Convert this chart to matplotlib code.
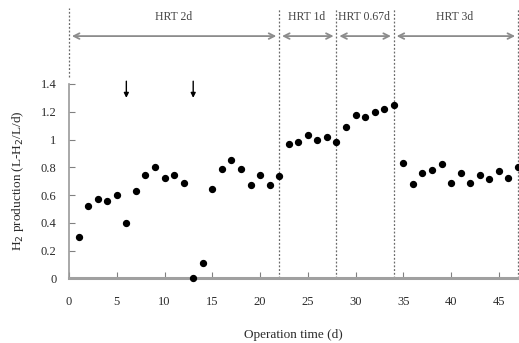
import numpy as np
import matplotlib
matplotlib.use("Agg")
import matplotlib.pyplot as plt

# ───────────── data ─────────────
days = list(range(1, 48))
h2_production = [
    0.30, 0.52, 0.57, 0.555, 0.60, 0.40, 0.63, 0.745, 0.80, 0.72,
    0.745, 0.685, 0.00, 0.11, 0.64, 0.79, 0.85, 0.785, 0.675, 0.745,
    0.67, 0.735, 0.97, 0.98, 1.03, 1.00, 1.02, 0.98, 1.09, 1.18,
    1.16, 1.20, 1.22, 1.25, 0.83, 0.68, 0.76, 0.78, 0.82, 0.69,
    0.76, 0.69, 0.745, 0.715, 0.775, 0.72, 0.80,
]
phase_bounds = [0, 22, 28, 34, 47]
phase_labels = ["HRT 2d", "HRT 1d", "HRT 0.67d", "HRT 3d"]
phase_label_x = [10.9, 24.9, 30.9, 40.4]
marker_days = [6, 13]
x_ticks = [0, 5, 10, 15, 20, 25, 30, 35, 40, 45]
y_ticks = [0, 0.2, 0.4, 0.6, 0.8, 1.0, 1.2, 1.4]
y_tick_labels = ["0", "0.2", "0.4", "0.6", "0.8", "1", "1.2", "1.4"]

plt.rcParams["font.family"] = ["Liberation Serif", "DejaVu Serif"]
text_color = "#2a2a2a"

fig = plt.figure(figsize=(5.19, 3.43), dpi=100)
ax = fig.add_axes([0.133, 0.1886, 0.865, 0.8114])

ax.scatter(days, h2_production, s=18, color="black", zorder=3, clip_on=False)

ax.set_xlim(0, 47)
ax.set_ylim(0, 2.005)

# spines
for side in ("top", "right"):
    ax.spines[side].set_visible(False)
ax.spines["left"].set_bounds(0, 1.4)
ax.spines["left"].set_color("#9a9a9a")
ax.spines["left"].set_linewidth(1.2)
ax.spines["bottom"].set_color("#a0a0a0")
ax.spines["bottom"].set_linewidth(2.2)

ax.set_xticks(x_ticks)
ax.set_yticks(y_ticks)
ax.set_yticklabels(y_tick_labels)
ax.tick_params(axis="x", direction="in", length=4, color="#808080", pad=13,
               labelsize=9, labelcolor=text_color)
ax.tick_params(axis="y", direction="in", length=4, color="#808080", pad=9,
               labelsize=9, labelcolor=text_color)

# phase separators
top_y = 1.947
for i, xb in enumerate(phase_bounds):
    y0 = 1.45 if i == 0 else 0
    ax.plot([xb, xb], [y0, top_y], linestyle=(0, (1.5, 1.5)), color="#6a6a6a",
            linewidth=0.9, clip_on=False, zorder=1)

# phase arrows and labels
arrow_y = 1.745
for i, label in enumerate(phase_labels):
    x_start = phase_bounds[i] + 0.3
    x_end = phase_bounds[i + 1] - 0.3
    ax.annotate("", xy=(x_end, arrow_y), xytext=(x_start, arrow_y),
                arrowprops=dict(arrowstyle="<->", color="#8c8c8c", lw=1.3,
                                shrinkA=0, shrinkB=0),
                annotation_clip=False)
    ax.text(phase_label_x[i], 1.88, label, ha="center", va="center",
            fontsize=8.5, color="#444444")

# downward arrows
for d in marker_days:
    ax.annotate("", xy=(d, 1.30), xytext=(d, 1.42),
                arrowprops=dict(arrowstyle="-|>", color="black", lw=1.0,
                                mutation_scale=7, shrinkA=0, shrinkB=0))

ax.set_xlabel("Operation time (d)", fontsize=9.5, color=text_color, labelpad=15)
ax.set_ylabel(r"H$_2$ production (L-H$_2$/L/d)", fontsize=9.5, color=text_color)
ax.yaxis.set_label_coords(-0.095, 0.35)

fig.savefig("out.png", dpi=100)
